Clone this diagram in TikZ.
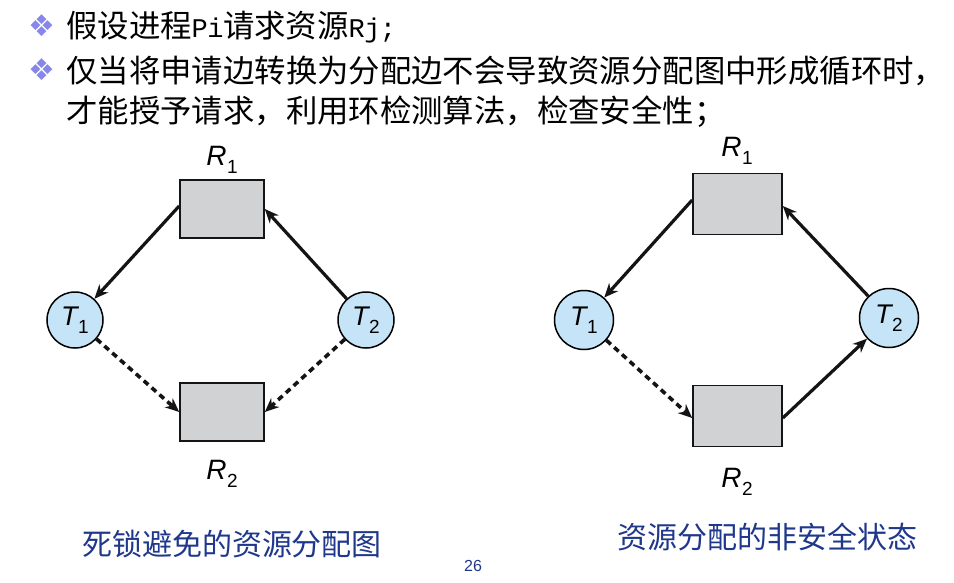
\documentclass[tikz,border=0pt]{standalone}
\usepackage{fontspec}
\usetikzlibrary{arrows.meta}
\newfontfamily\cjk{Noto Sans CJK SC}
\newfontfamily\latmono{Liberation Mono}
\newfontfamily\helv{Liberation Sans}
\newfontfamily\dejavu{DejaVu Sans}
\definecolor{bulletc}{RGB}{135,135,235}
\definecolor{capblue}{RGB}{32,56,140}
\definecolor{boxgray}{RGB}{209,210,212}
\definecolor{circblue}{RGB}{198,228,247}
\definecolor{edgec}{RGB}{20,20,20}
\newcommand{\hw}[1]{\makebox[0.5em][c]{\fontsize{27}{30}\latmono #1}}
\newcommand{\lbl}[2]{{\helv\itshape #1}\kern0.02em\raisebox{-0.28em}{\helv\fontsize{19}{20}\selectfont #2}}
\begin{document}
\begin{tikzpicture}[x=1pt,y=-1pt,
  headtext/.style={anchor=base west,inner sep=0pt,font=\fontsize{31.4}{36}\cjk},
  bul/.style={inner sep=0pt,text=bulletc,font=\fontsize{30}{30}\dejavu},
  res/.style={draw=edgec,line width=1.6pt,fill=boxgray,minimum width=84pt,minimum height=58pt,inner sep=0pt},
  proc/.style={circle,draw=black,line width=1.5pt,fill=circblue,minimum size=56pt,inner sep=0pt,font=\fontsize{27}{28}\selectfont},
  rlabel/.style={inner sep=0pt,font=\fontsize{28}{30}\selectfont},
  edge/.style={line width=3.2pt,draw=edgec,-{Stealth[length=14pt,width=12pt]}},
  dedge/.style={edge,dash pattern=on 6pt off 4.5pt,line width=3.6pt},
  caption/.style={inner sep=0pt,text=capblue,font=\fontsize{30}{32}\cjk}
]
\path[use as bounding box,fill=white] (0,0) rectangle (954,582);

% header
\node[bul] (b1) at (41.5,26) {❖};
\node[bul] (b2) at (41.5,70) {❖};
\node[headtext] (h1) at (66,37) {假设进程\hw{P}\hw{i}请求资源\hw{R}\hw{j}\hw{;}};
\node[headtext] (h2) at (66,82) {仅当将申请边转换为分配边不会导致资源分配图中形成循环时，};
\node[headtext] (h3) at (66,122) {才能授予请求，利用环检测算法，检查安全性；};

% left diagram
\node[res] (lR1) at (222,209) {};
\node[res] (lR2) at (222,412) {};
\node[proc] (lT1) at (75,320) {\lbl{T}{1}};
\node[proc] (lT2) at (366,320) {\lbl{T}{2}};
\node[rlabel] (lR1l) at (222,160) {\lbl{R}{1}};
\node[rlabel] (lR2l) at (222,474) {\lbl{R}{2}};
\draw[edge] ([yshift=3pt]lR1.west) -- (lT1);
\draw[edge] (lT2) -- (lR1.east);
\draw[dedge] (lT1) -- (lR2.west);
\draw[dedge] (lT2) -- (lR2.east);

% right diagram
\node[res,minimum width=89pt,minimum height=61pt] (rR1) at (737.5,204) {};
\node[res,minimum width=89pt,minimum height=61pt] (rR2) at (737.5,416) {};
\node[proc,minimum size=59pt] (rT1) at (584,320) {\lbl{T}{1}};
\node[proc,minimum size=59pt] (rT2) at (889,318) {\lbl{T}{2}};
\node[rlabel] (rR1l) at (737,151) {\lbl{R}{1}};
\node[rlabel] (rR2l) at (737,482) {\lbl{R}{2}};
\draw[edge] ([yshift=4pt]rR1.west) -- (rT1);
\draw[edge] (rT2) -- ([yshift=-2pt]rR1.east);
\draw[dedge] (rT1) -- ([yshift=-2pt]rR2.west);
\draw[edge] ([yshift=-2pt]rR2.east) -- (rT2);

% captions
\node[caption] (c1) at (232,544) {死锁避免的资源分配图};
\node[caption] (c2) at (767,537) {资源分配的非安全状态};
\node[inner sep=0pt,text=capblue,font=\fontsize{16}{18}\helv] (pg) at (473,566) {26};
\end{tikzpicture}
\end{document}
